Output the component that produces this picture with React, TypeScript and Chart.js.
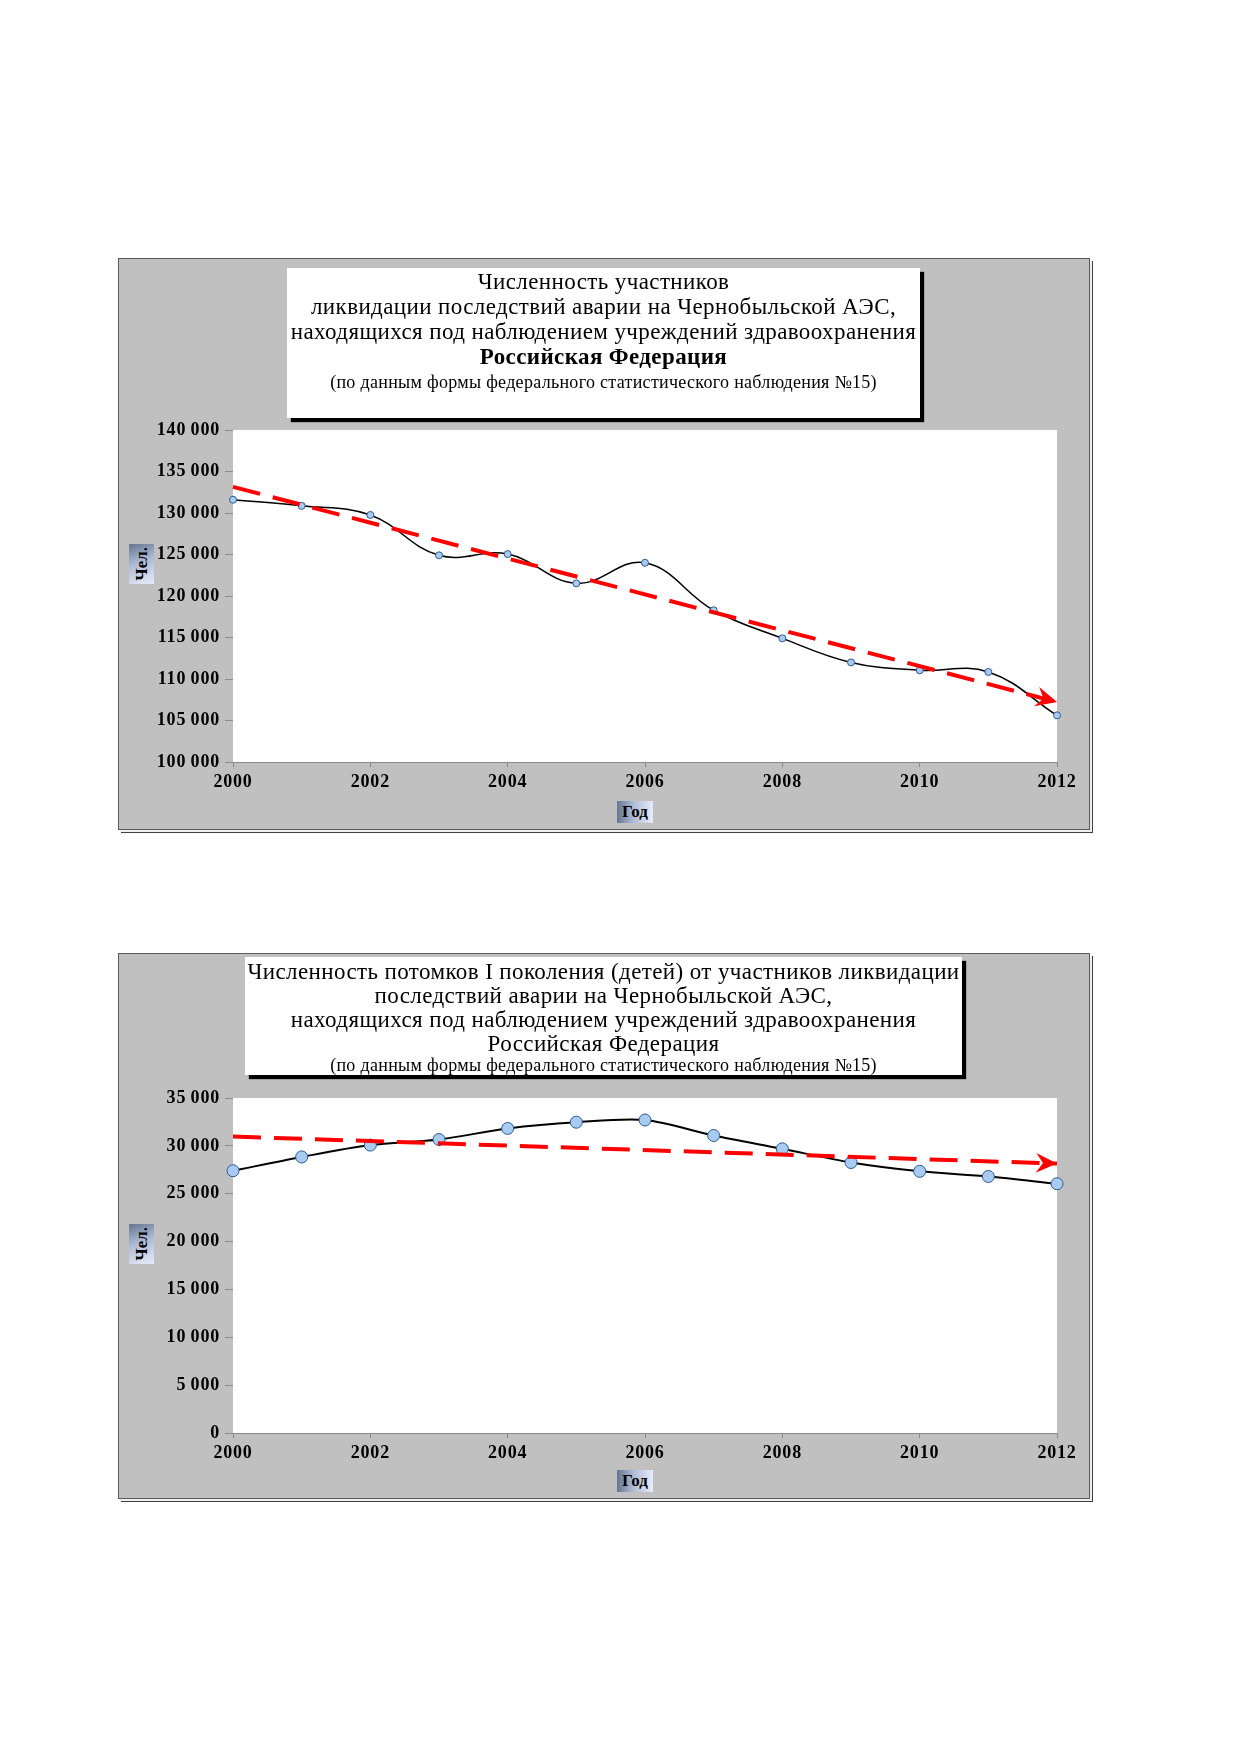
import React, { useEffect, useRef } from "react";
import { Chart, registerables } from "chart.js";

Chart.register(...registerables);

// ---------- data ----------
const YEARS = [2000, 2001, 2002, 2003, 2004, 2005, 2006, 2007, 2008, 2009, 2010, 2011, 2012];
const LIQUIDATORS = [131600, 130860, 129760, 124900, 125050, 121530, 124000, 118280, 114900, 112000, 111050, 110850, 105620];
const DESCENDANTS = [27400, 28840, 30080, 30660, 31820, 32470, 32700, 31080, 29690, 28260, 27340, 26800, 26040];
const TREND_YEARS = [2000, 2012];
const LIQUIDATORS_TREND = [133150, 107230];
const DESCENDANTS_TREND = [30970, 28150];
const X_MIN = 2000;
const X_MAX = 2012;
const X_STEP = 2;
const Y1_MIN = 100000;
const Y1_MAX = 140000;
const Y2_MIN = 0;
const Y2_MAX = 35000;
const Y_STEP = 5000;

const TITLE1 = [
  "Численность участников",
  "ликвидации последствий аварии на Чернобыльской АЭС,",
  "находящихся под наблюдением учреждений здравоохранения",
  "Российская Федерация",
  "(по данным формы федерального статистического наблюдения №15)",
];
const TITLE2 = [
  "Численность потомков I поколения (детей) от участников ликвидации",
  "последствий аварии на Чернобыльской АЭС,",
  "находящихся под наблюдением учреждений здравоохранения",
  "Российская Федерация",
  "(по данным формы федерального статистического наблюдения №15)",
];
const Y_LABEL = "Чел.";
const X_LABEL = "Год";

// ---------- helpers ----------
const SERIF = "'Liberation Serif', 'Times New Roman', serif";

const fmt = (v: number) => (v === 0 ? "0" : String(v).replace(/\B(?=(\d{3})+(?!\d))/g, "\u2009"));

const plotBg = {
  id: "plotBg",
  beforeDraw(chart: any) {
    (chart.ctx as any).letterSpacing = "0.8px";
  },
  beforeDatasetsDraw(chart: any) {
    const { ctx, chartArea } = chart;
    ctx.save();
    ctx.fillStyle = "#ffffff";
    ctx.fillRect(chartArea.left, chartArea.top, chartArea.right - chartArea.left, chartArea.bottom - chartArea.top);
    ctx.restore();
  },
};

const arrowPlugin = {
  id: "trendArrow",
  afterDatasetsDraw(chart: any) {
    const ctx = chart.ctx;
    chart.data.datasets.forEach((ds: any, i: number) => {
      if (!ds.arrow) return;
      const pts = chart.getDatasetMeta(i).data;
      const a = pts[pts.length - 2];
      const b = pts[pts.length - 1];
      const ang = Math.atan2(b.y - a.y, b.x - a.x);
      ctx.save();
      ctx.translate(b.x, b.y);
      ctx.rotate(ang);
      ctx.fillStyle = ds.borderColor;
      ctx.beginPath();
      ctx.moveTo(0, 0);
      ctx.lineTo(-21, -10);
      ctx.lineTo(-14, 0);
      ctx.lineTo(-21, 10);
      ctx.closePath();
      ctx.fill();
      ctx.restore();
    });
  },
};

type Box = { left: number; top: number; width: number; height: number };
type PanelProps = {
  top: number;
  height: number;
  values: number[];
  trend: number[];
  yMin: number;
  yMax: number;
  padTop: number;
  axisW: number;
  pointRadius: number;
  lineWidth: number;
  tension: number;
  title: string[];
  titleBox: Box;
  titlePadTop: number;
  titleSizes: number[];
  titleLineHeights: number[];
  boldLine: number;
  yLabelBox: Box;
  xLabelBox: Box;
};

const FRAME_LEFT = 118;
const FRAME_WIDTH = 972;

function Panel(p: PanelProps) {
  const ref = useRef<HTMLCanvasElement | null>(null);
  useEffect(() => {
    if (!ref.current) return;
    const tickFont = { family: SERIF, size: 18, weight: "bold" as const };
    const canvasH = p.height - 2;
    const chart = new Chart(ref.current, {
      type: "line",
      data: {
        datasets: [
          {
            data: TREND_YEARS.map((x, i) => ({ x, y: p.trend[i] })),
            borderColor: "#ff0000",
            borderWidth: 4,
            borderDash: [28, 13],
            pointRadius: 0,
            fill: false,
            tension: 0,
            clip: false,
            arrow: true,
          } as any,
          {
            data: YEARS.map((x, i) => ({ x, y: p.values[i] })),
            borderColor: "#000000",
            borderWidth: p.lineWidth,
            pointRadius: p.pointRadius,
            pointBackgroundColor: "#a9cbf2",
            pointBorderColor: "#2e5c8f",
            pointBorderWidth: 1,
            fill: false,
            tension: p.tension,
            cubicInterpolationMode: "default",
            clip: false,
          } as any,
        ],
      },
      options: {
        animation: false,
        responsive: true,
        maintainAspectRatio: false,
        layout: { padding: { left: 0, top: p.padTop, right: 32, bottom: canvasH - p.padTop - p.axisW - 40 } },
        plugins: { legend: { display: false }, tooltip: { enabled: false }, title: { display: false } },
        scales: {
          x: {
            type: "linear",
            min: X_MIN,
            max: X_MAX,
            ticks: { stepSize: X_STEP, font: tickFont, color: "#000", padding: 5, maxRotation: 0, callback: (v: any) => String(v) },
            grid: { drawOnChartArea: false, drawTicks: true, tickLength: 5, color: "#8a8a8a" },
            border: { color: "#8a8a8a", width: 1 },
            afterFit: (s: any) => {
              s.height = 40;
            },
          },
          y: {
            min: p.yMin,
            max: p.yMax,
            ticks: { stepSize: Y_STEP, font: tickFont, color: "#000", padding: 5, callback: (v: any) => fmt(Number(v)) },
            grid: { color: "#8a8a8a", tickLength: 8, lineWidth: 1 },
            border: { color: "#8a8a8a", width: 1 },
            afterFit: (s: any) => {
              s.width = 114;
            },
          },
        },
      } as any,
      plugins: [plotBg, arrowPlugin],
    });
    return () => chart.destroy();
  }, []);

  const axisBox = (b: Box, grad: string): React.CSSProperties => ({
    position: "absolute",
    left: b.left,
    top: b.top,
    width: b.width,
    height: b.height,
    background: grad,
    display: "flex",
    alignItems: "center",
    justifyContent: "center",
    fontFamily: SERIF,
    fontWeight: "bold",
    fontSize: 17,
    color: "#000",
  });

  return (
    <>
      <div
        style={{
          position: "absolute",
          left: FRAME_LEFT,
          top: p.top,
          width: FRAME_WIDTH,
          height: p.height,
          boxSizing: "border-box",
          border: "1px solid #5a5a5a",
          background: "#c0c0c0",
          boxShadow: "2px 2px 0 #f0f0f0, 3px 3px 0 #404040",
        }}
      >
        <canvas ref={ref} style={{ position: "absolute", left: 0, top: 0, width: FRAME_WIDTH - 2, height: p.height - 2 }} />
      </div>
      <div
        style={{
          position: "absolute",
          left: p.titleBox.left,
          top: p.titleBox.top,
          width: p.titleBox.width,
          height: p.titleBox.height,
          boxSizing: "border-box",
          paddingTop: p.titlePadTop,
          background: "#ffffff",
          boxShadow: "4px 4px 1px #000",
          fontFamily: SERIF,
          color: "#000",
          textAlign: "center",
          whiteSpace: "nowrap",
        }}
      >
        {p.title.map((t, i) => (
          <div
            key={i}
            style={{
              fontSize: p.titleSizes[i],
              lineHeight: p.titleLineHeights[i] + "px",
              height: p.titleLineHeights[i],
              letterSpacing: i === p.title.length - 1 ? "0.3px" : "0.4px",
              fontWeight: i === p.boldLine ? "bold" : "normal",
            }}
          >
            {t}
          </div>
        ))}
      </div>
      <div style={axisBox(p.yLabelBox, "linear-gradient(160deg, #66758f 0%, #aebbd6 45%, #e6ecf9 100%)")}>
        <span style={{ writingMode: "vertical-rl", transform: "rotate(180deg)" }}>{Y_LABEL}</span>
      </div>
      <div style={axisBox(p.xLabelBox, "linear-gradient(90deg, #66758f 0%, #aebbd6 45%, #e6ecf9 100%)")}>
        <span>{X_LABEL}</span>
      </div>
    </>
  );
}

export default function App() {
  return (
    <div style={{ position: "absolute", left: 0, top: 0, width: 1239, height: 1752, background: "#ffffff", overflow: "hidden" }}>
      <Panel
        top={258}
        height={572}
        values={LIQUIDATORS}
        trend={LIQUIDATORS_TREND}
        yMin={Y1_MIN}
        yMax={Y1_MAX}
        padTop={171}
        axisW={332}
        pointRadius={3.5}
        lineWidth={1.5}
        tension={0.4}
        title={TITLE1}
        titleBox={{ left: 287, top: 268, width: 633, height: 150 }}
        titlePadTop={1}
        titleSizes={[23, 23, 23, 23, 18]}
        titleLineHeights={[25, 25, 25, 25, 26]}
        boldLine={3}
        yLabelBox={{ left: 129, top: 544, width: 25, height: 40 }}
        xLabelBox={{ left: 617, top: 801, width: 36, height: 22 }}
      />
      <Panel
        top={953}
        height={546}
        values={DESCENDANTS}
        trend={DESCENDANTS_TREND}
        yMin={Y2_MIN}
        yMax={Y2_MAX}
        padTop={144}
        axisW={335}
        pointRadius={6}
        lineWidth={2}
        tension={0.3}
        title={TITLE2}
        titleBox={{ left: 245, top: 957, width: 717, height: 118 }}
        titlePadTop={3}
        titleSizes={[23, 23, 23, 23, 18]}
        titleLineHeights={[24, 24, 24, 24, 19]}
        boldLine={-1}
        yLabelBox={{ left: 129, top: 1224, width: 25, height: 40 }}
        xLabelBox={{ left: 617, top: 1470, width: 36, height: 22 }}
      />
    </div>
  );
}
